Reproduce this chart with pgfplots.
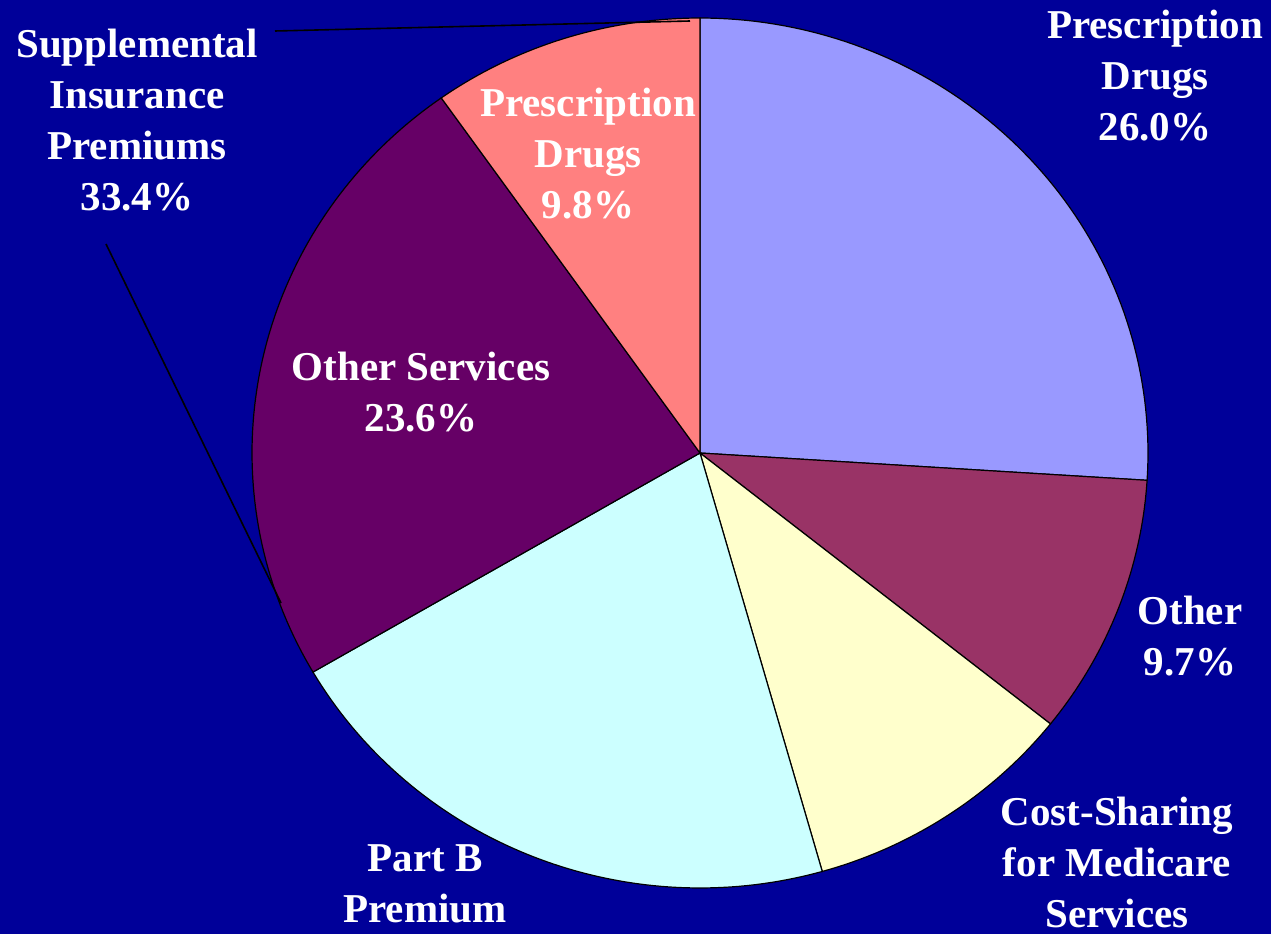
\documentclass[border=0pt]{standalone}
\usepackage{pgfplots}
\pgfplotsset{compat=1.18}
\usepackage{fontspec}
\setmainfont{Liberation Serif}
\definecolor{bgblue}{HTML}{000099}
\definecolor{cA}{HTML}{9999FF}
\definecolor{cB}{HTML}{993366}
\definecolor{cC}{HTML}{FFFFCC}
\definecolor{cD}{HTML}{CCFFFF}
\definecolor{cE}{HTML}{660066}
\definecolor{cF}{HTML}{FF8080}
\tikzset{lbl/.style={text=white, font=\fontsize{20.5}{25.5}\selectfont\bfseries, align=center}}
\begin{document}
\begin{tikzpicture}
\begin{axis}[name=ax, at={(0,0)}, anchor=south west,
  scale only axis, width=635.5pt, height=467pt,
  xmin=0, xmax=1271, ymin=0, ymax=934, hide axis, clip=true]
\fill[bgblue] (axis cs:0,0) rectangle (axis cs:1271,934);
% slice values (percent), clockwise from top: 26.0, 9.7, 9.9, 21.0, 23.6, 9.8
\addplot[fill=cA, draw=black, line width=0.6pt, domain={90-26.0*3.6}:90, samples=80, variable=\t]
  ({700+448*cos(\t)}, {481+435*sin(\t)}) -- (axis cs:700,481) -- cycle;
\addplot[fill=cB, draw=black, line width=0.6pt, domain={90-35.7*3.6}:{90-26.0*3.6}, samples=40, variable=\t]
  ({700+448*cos(\t)}, {481+435*sin(\t)}) -- (axis cs:700,481) -- cycle;
\addplot[fill=cC, draw=black, line width=0.6pt, domain={90-45.6*3.6}:{90-35.7*3.6}, samples=40, variable=\t]
  ({700+448*cos(\t)}, {481+435*sin(\t)}) -- (axis cs:700,481) -- cycle;
\addplot[fill=cD, draw=black, line width=0.6pt, domain={90-66.6*3.6}:{90-45.6*3.6}, samples=70, variable=\t]
  ({700+448*cos(\t)}, {481+435*sin(\t)}) -- (axis cs:700,481) -- cycle;
\addplot[fill=cE, draw=black, line width=0.6pt, domain={90-90.2*3.6}:{90-66.6*3.6}, samples=80, variable=\t]
  ({700+448*cos(\t)}, {481+435*sin(\t)}) -- (axis cs:700,481) -- cycle;
\addplot[fill=cF, draw=black, line width=0.6pt, domain={90-100*3.6}:{90-90.2*3.6}, samples=40, variable=\t]
  ({700+448*cos(\t)}, {481+435*sin(\t)}) -- (axis cs:700,481) -- cycle;
% leader lines
\draw[black, line width=0.8pt] (axis cs:275,903) -- (axis cs:690,913);
\draw[black, line width=0.8pt] (axis cs:106,690) -- (axis cs:281,331);
% labels
\node[lbl] at (axis cs:137,814) {Supplemental\\Insurance\\Premiums\\33.4\%};
\node[lbl] at (axis cs:1155,858) {Prescription\\Drugs\\26.0\%};
\node[lbl] at (axis cs:1190,298) {Other\\9.7\%};
\node[lbl] at (axis cs:1117,72) {Cost-Sharing\\for Medicare\\Services};
\node[lbl] at (axis cs:425,50) {Part B\\Premium};
\node[lbl] at (axis cs:421,542) {Other Services\\23.6\%};
\node[lbl] at (axis cs:588,780) {Prescription\\Drugs\\9.8\%};
\end{axis}
\pgfresetboundingbox
\path[use as bounding box] (ax.south west) rectangle (ax.north east);
\end{tikzpicture}
\end{document}
